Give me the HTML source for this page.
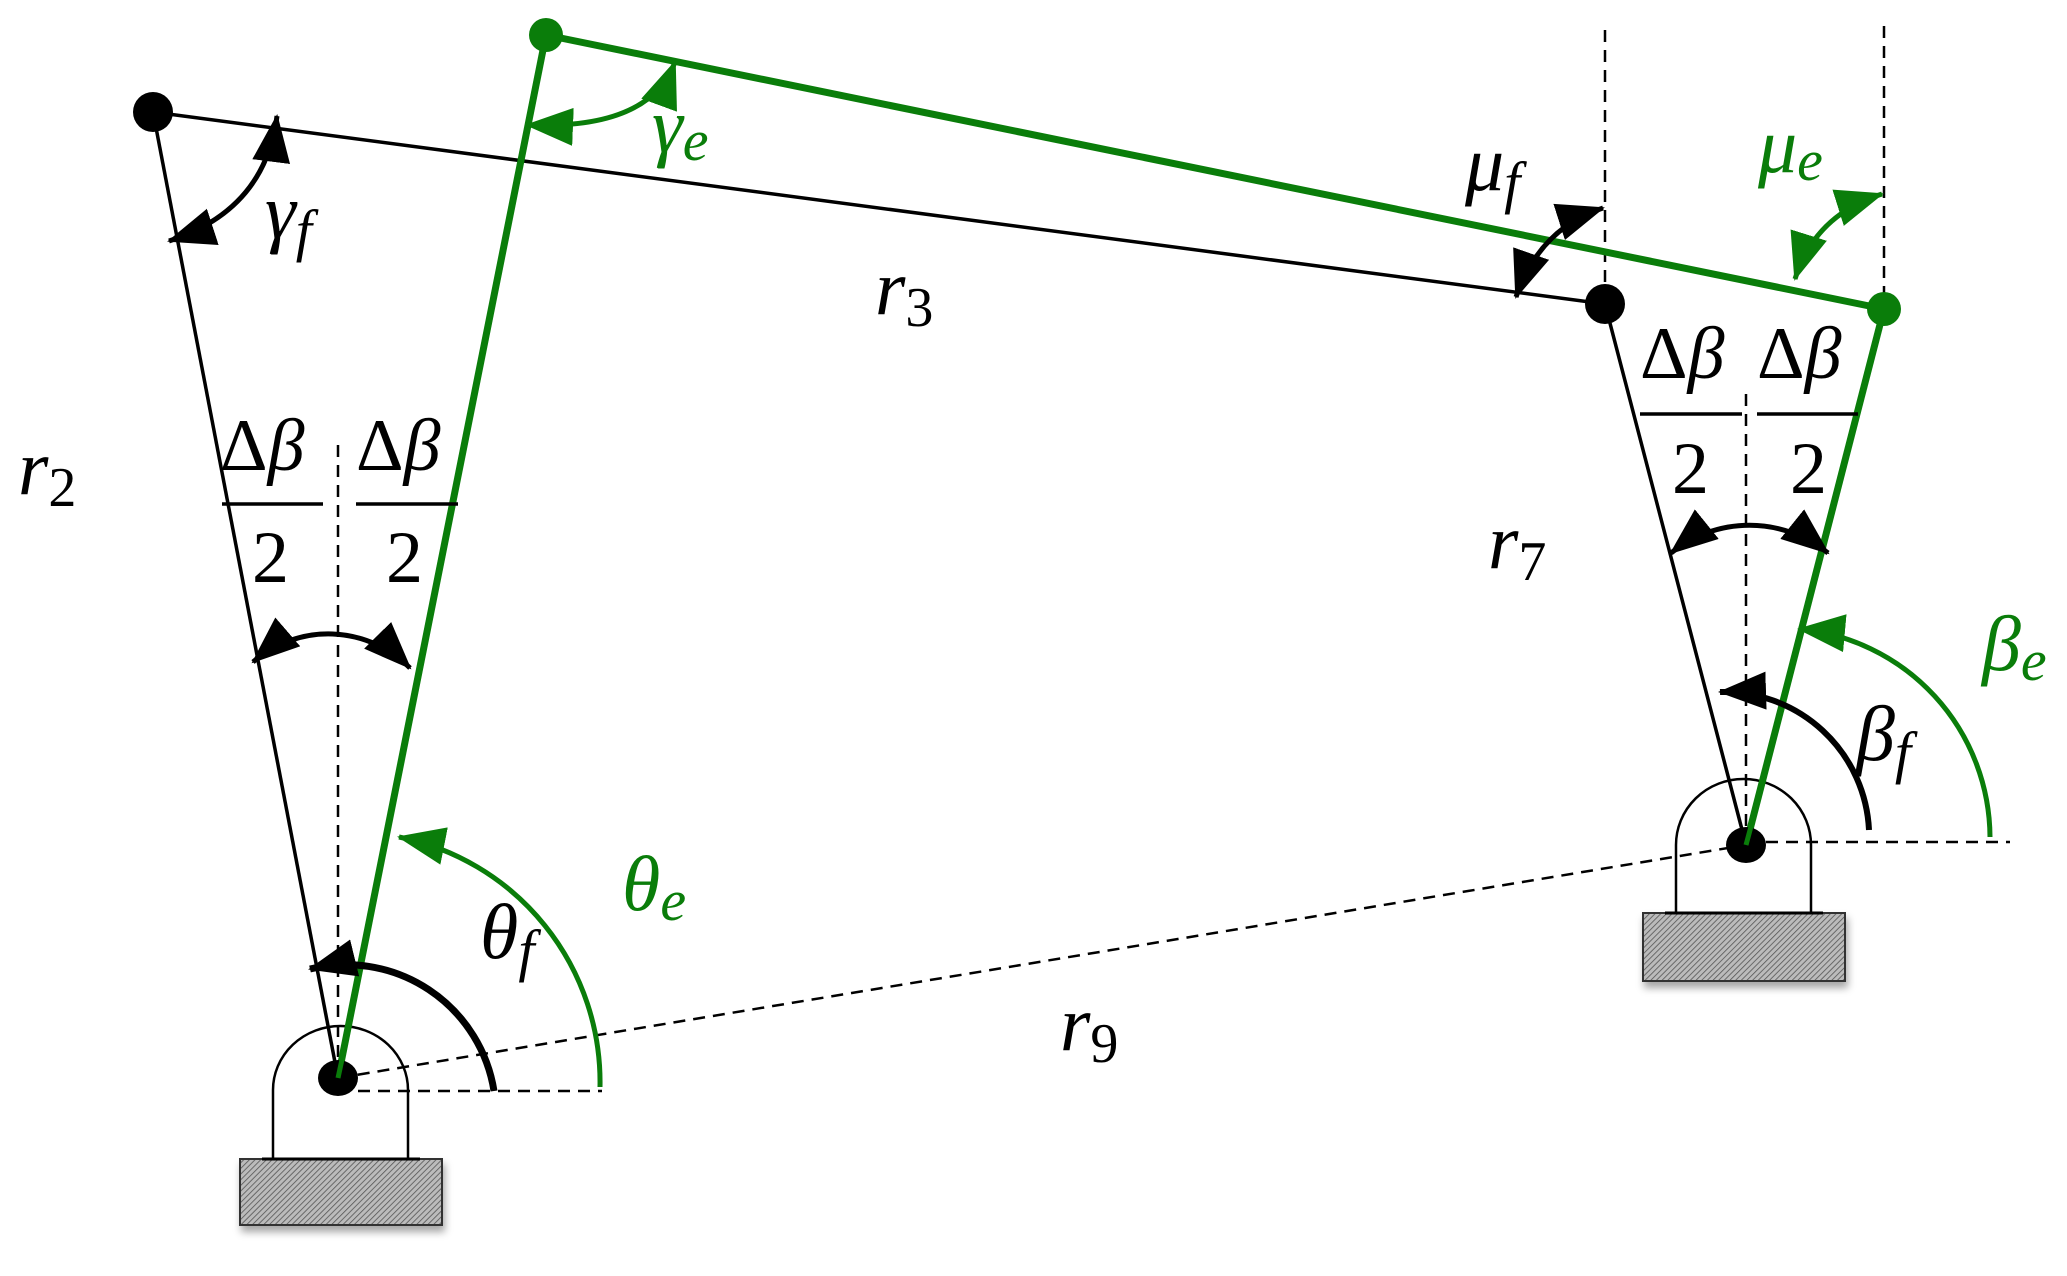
<!DOCTYPE html>
<html><head><meta charset="utf-8"><style>
html,body{margin:0;padding:0;background:#fff;}
svg{display:block;}
text{font-family:"Liberation Serif",serif;}
.it{font-style:italic;}
</style></head><body>
<svg width="2067" height="1276" viewBox="0 0 2067 1276" xmlns="http://www.w3.org/2000/svg">
<defs>
<marker id="ab" markerUnits="userSpaceOnUse" markerWidth="52" markerHeight="42" refX="46" refY="19" orient="auto-start-reverse"><path d="M0,0 L48,19 L0,38 Z" fill="#000"/></marker>
<marker id="ag" markerUnits="userSpaceOnUse" markerWidth="52" markerHeight="42" refX="46" refY="19" orient="auto-start-reverse"><path d="M0,0 L48,19 L0,38 Z" fill="#0a7d0a"/></marker>
<pattern id="hatch" width="4" height="4" patternUnits="userSpaceOnUse" patternTransform="rotate(45)"><rect width="4" height="4" fill="#bbb"/><line x1="0" y1="0" x2="0" y2="4" stroke="#555" stroke-width="1.6"/></pattern>
<filter id="sh" x="-10%" y="-10%" width="130%" height="140%"><feDropShadow dx="2" dy="6" stdDeviation="4" flood-color="#000" flood-opacity="0.35"/></filter>
</defs>

<!-- pedestals -->
<rect x="240" y="1159" width="202" height="66" fill="url(#hatch)" stroke="#333" stroke-width="2" filter="url(#sh)"/>
<path d="M273,1159 L273,1090 A67.5,64 0 0 1 408,1090 L408,1159" fill="#fff" stroke="#000" stroke-width="2.5"/>
<line x1="262" y1="1159" x2="420" y2="1159" stroke="#000" stroke-width="3"/>
<rect x="1643" y="913" width="202" height="68" fill="url(#hatch)" stroke="#333" stroke-width="2" filter="url(#sh)"/>
<path d="M1676,913 L1676,845 A67.5,66 0 0 1 1811,845 L1811,913" fill="#fff" stroke="#000" stroke-width="2.5"/>
<line x1="1665" y1="913" x2="1823" y2="913" stroke="#000" stroke-width="3"/>

<!-- dashed lines -->
<g stroke="#000" stroke-width="2.5" stroke-dasharray="12,8" fill="none">
<line x1="338" y1="445" x2="338" y2="1078"/>
<line x1="1746" y1="394" x2="1746" y2="845"/>
<line x1="1605" y1="30" x2="1605" y2="304"/>
<line x1="1884" y1="26" x2="1884" y2="309"/>
<line x1="338" y1="1091" x2="602" y2="1091"/>
<line x1="1746" y1="842" x2="2010" y2="842"/>
<line x1="338" y1="1078" x2="1746" y2="845"/>
</g>

<!-- links -->
<g stroke="#000" stroke-width="3.5" fill="none">
<line x1="153" y1="112" x2="338" y2="1078"/>
<line x1="153" y1="112" x2="1605" y2="304"/>
<line x1="1605" y1="304" x2="1746" y2="845"/>
</g>
<g stroke="#0a7d0a" stroke-width="7" fill="none">
<line x1="546" y1="35" x2="338" y2="1078"/>
<line x1="546" y1="35" x2="1884" y2="309"/>
<line x1="1884" y1="309" x2="1746" y2="845"/>
</g>

<!-- nodes -->
<circle cx="153" cy="112" r="20" fill="#000"/>
<circle cx="546" cy="35" r="17" fill="#0a7d0a"/>
<circle cx="1605" cy="304" r="20" fill="#000"/>
<circle cx="1884" cy="309" r="17" fill="#0a7d0a"/>
<ellipse cx="338" cy="1078" rx="20" ry="18" fill="#000"/>
<ellipse cx="1746" cy="845" rx="20" ry="18" fill="#000"/>
<line x1="344" y1="1050" x2="338" y2="1078" stroke="#0a7d0a" stroke-width="5"/>
<line x1="1753" y1="819" x2="1746" y2="845" stroke="#0a7d0a" stroke-width="5"/>

<!-- angle arcs -->
<g fill="none" stroke-width="5">
<path d="M494,1091 A150,150 0 0 0 310,969" stroke="#000" stroke-width="7" marker-end="url(#ab)"/>
<path d="M600,1087 A250,250 0 0 0 399,837" stroke="#0a7d0a" marker-end="url(#ag)"/>
<path d="M253,662 A115,115 0 0 1 410,668" stroke="#000" marker-start="url(#ab)" marker-end="url(#ab)"/>
<path d="M1671,553 A125,125 0 0 1 1828,553" stroke="#000" marker-start="url(#ab)" marker-end="url(#ab)"/>
<path d="M1869,830 A145,145 0 0 0 1720,692" stroke="#000" stroke-width="6" marker-end="url(#ab)"/>
<path d="M1990,837 A210,210 0 0 0 1799,629" stroke="#0a7d0a" marker-end="url(#ag)"/>
<path d="M169,241 Q265,210 277,116" stroke="#000" marker-start="url(#ab)" marker-end="url(#ab)"/>
<path d="M527,125 Q650,130 675,62" stroke="#0a7d0a" marker-start="url(#ag)" marker-end="url(#ag)"/>
<path d="M1516,297 Q1540,228 1603,208" stroke="#000" marker-start="url(#ab)" marker-end="url(#ab)"/>
<path d="M1795,279 Q1815,215 1882,194" stroke="#0a7d0a" marker-start="url(#ag)" marker-end="url(#ag)"/>
</g>

<!-- fraction bars -->
<g stroke="#000" stroke-width="3.5">
<line x1="222" y1="504" x2="323" y2="504"/>
<line x1="356" y1="504" x2="458" y2="504"/>
<line x1="1640" y1="414" x2="1742" y2="414"/>
<line x1="1757" y1="414" x2="1858" y2="414"/>
</g>

<!-- labels -->
<g font-size="74" fill="#000">
<text x="220" y="470">Δ<tspan class="it">β</tspan></text>
<text x="356" y="470">Δ<tspan class="it">β</tspan></text>
<text x="252" y="582">2</text>
<text x="386" y="582">2</text>
<text x="1640" y="378">Δ<tspan class="it">β</tspan></text>
<text x="1757" y="378">Δ<tspan class="it">β</tspan></text>
<text x="1672" y="493">2</text>
<text x="1790" y="493">2</text>
</g>
<g font-size="78" fill="#000">
<text x="18" y="494" class="it">r<tspan font-size="56" dy="12" font-style="normal">2</tspan></text>
<text x="875" y="314" class="it">r<tspan font-size="56" dy="12" font-style="normal">3</tspan></text>
<text x="1488" y="568" class="it">r<tspan font-size="56" dy="12" font-style="normal">7</tspan></text>
<text x="1060" y="1050" class="it">r<tspan font-size="56" dy="12" font-style="normal">9</tspan></text>
<text x="265" y="238" class="it">γ<tspan font-size="58" dy="12">f</tspan></text>
<text x="480" y="958" class="it">θ<tspan font-size="58" dy="12">f</tspan></text>
<text x="1465" y="190" class="it">μ<tspan font-size="58" dy="12">f</tspan></text>
<text x="1856" y="760" class="it">β<tspan font-size="58" dy="12">f</tspan></text>
</g>
<g font-size="78" fill="#0a7d0a">
<text x="652" y="152" class="it">γ<tspan font-size="58" dy="8">e</tspan></text>
<text x="622" y="910" class="it">θ<tspan font-size="58" dy="10">e</tspan></text>
<text x="1758" y="172" class="it">μ<tspan font-size="58" dy="8">e</tspan></text>
<text x="1982" y="670" class="it">β<tspan font-size="58" dy="10">e</tspan></text>
</g>
</svg>
</body></html>
